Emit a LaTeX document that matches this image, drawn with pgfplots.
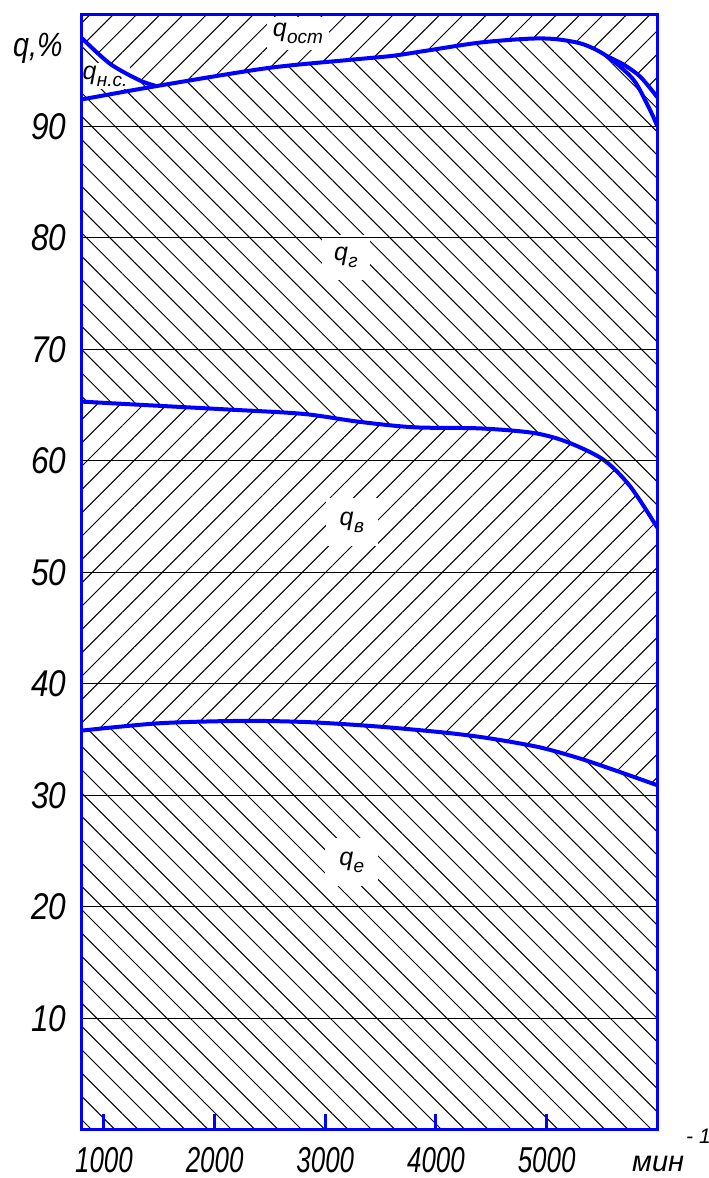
\documentclass[border=0pt]{standalone}
\usepackage{fontspec}
\setmainfont{Liberation Sans}
\newfontfamily\xtfont[FakeStretch=0.72]{Liberation Sans}
\newfontfamily\ytfont[FakeStretch=0.85]{Liberation Sans}
\usepackage{pgfplots}
\pgfplotsset{compat=1.18}
\usepgfplotslibrary{fillbetween}
\usetikzlibrary{patterns.meta}

\tikzset{
  hatchR/.style={pattern={Lines[angle=45,distance=8.25pt,line width=0.5pt]}},
  hatchL/.style={pattern={Lines[angle=-45,distance=8.25pt,line width=0.5pt]}},
  curve/.style={blue, line width=2pt, smooth},
  lab/.style={fill=white, font=\fontsize{12.5}{12.5}\selectfont\itshape},
}
\newcommand{\qs}[1]{q\kern0.2pt\raisebox{-3.5pt}{\fontsize{9.5}{9.5}\selectfont #1}}

\begin{document}
\begin{tikzpicture}
\begin{axis}[
  scale only axis, width=287.75pt, height=557.55pt,
  xmin=800, xmax=6000, ymin=0, ymax=100,
  xtick={1000,2000,3000,4000,5000},
  xticklabels={1000,2000,3000,4000,5000},
  ytick={10,20,...,90},
  yticklabels={10,20,30,40,50,60,70,80,90},
  xtick pos=left, tick align=inside, major tick length=8pt,
  xtick style={blue, line width=1.5pt},
  ytick style={draw=none},
  ymajorgrids, major grid style={black, line width=0.6pt},
  axis line style={blue, line width=1.7pt},
  axis on top,
  xticklabel style={inner sep=0pt, yshift=-8.75pt,
    font=\fontsize{18}{18}\selectfont\xtfont\itshape},
  yticklabel style={inner sep=0pt, xshift=-7.5pt,
    font=\fontsize{18.6}{18.6}\selectfont\ytfont\itshape},
]
% boundaries
\addplot[draw=none, name path=bot] coordinates {(800,0) (6000,0)};
\addplot[draw=none, name path=top] coordinates {(800,100) (6000,100)};
% q_e top
\addplot[draw=none, smooth, name path=E] coordinates {
 (800,35.8) (1505,36.46) (2260,36.67) (2864,36.55) (3494,36.15) (4097,35.6)
 (4487,35.1) (4937,34.3) (5300,33.3) (5600,32.3) (6000,30.9)};
% q_v top
\addplot[draw=none, smooth, name path=B] coordinates {
 (800,65.3) (1356,65.0) (2109,64.6) (2800,64.2) (3300,63.5) (3800,63.0)
 (4397,62.9) (4876,62.5) (5180,61.7) (5512,60.1) (5755,57.7) (6000,54.0)};
% upper boundary (q_ns top)
\addplot[draw=none, smooth, name path=U] coordinates {
 (800,97.9) (1055,95.6) (1325,94.1) (1430,93.72) (1476,93.6) (1530,93.7)
 (2470,95.2) (3222,95.95) (3600,96.3) (3900,96.75) (4397,97.5) (4848,97.85)
 (5089,97.8) (5330,97.35) (5541,96.3) (5700,95.5) (5850,94.4) (6000,92.6)};

\addplot[hatchL] fill between[of=bot and E];
\addplot[hatchR] fill between[of=E and B];
\addplot[hatchL] fill between[of=B and U];
\addplot[hatchR] fill between[of=U and top];

% labels
\node[lab, inner sep=3pt] at (axis cs:2753,98.3) {\qs{ост}};
\node[lab, inner sep=1.5pt] at (axis cs:1010,94.5) {\qs{н.с.}};
\node[lab, inner sep=6pt] at (axis cs:3186,78.2) {\qs{г}};
\node[lab, inner sep=7pt] at (axis cs:3240,54.5) {\qs{в}};
\node[lab, inner sep=7pt] at (axis cs:3240,24.0) {\qs{е}};

% curves
\addplot[curve] coordinates {
 (800,35.8) (1505,36.46) (2260,36.67) (2864,36.55) (3494,36.15) (4097,35.6)
 (4487,35.1) (4937,34.3) (5300,33.3) (5600,32.3) (6000,30.9)};
\addplot[curve] coordinates {
 (800,65.3) (1356,65.0) (2109,64.6) (2800,64.2) (3300,63.5) (3800,63.0)
 (4397,62.9) (4876,62.5) (5180,61.7) (5512,60.1) (5755,57.7) (6000,54.0)};
\addplot[curve] coordinates {
 (800,92.4) (1476,93.6) (2470,95.2) (3222,95.95) (3600,96.3) (3900,96.75)
 (4397,97.5) (4848,97.85) (5089,97.8) (5330,97.35) (5541,96.3) (5782,94.2)
 (5932,91.5) (6000,90.0)};
\addplot[curve] coordinates {(800,97.9) (1055,95.6) (1325,94.1) (1476,93.6)};
\addplot[curve] coordinates {(5541,96.3) (5700,95.5) (5850,94.4) (6000,92.6)};

\coordinate (SW) at (rel axis cs:0,0);
\coordinate (NE) at (rel axis cs:1,1);
\coordinate (SE) at (rel axis cs:1,0);
\coordinate (NW) at (rel axis cs:0,1);
\end{axis}
\node[anchor=base west, inner sep=0pt, font=\fontsize{16.8}{16.8}\selectfont\ytfont\itshape]
  at ([xshift=-34.5pt, yshift=-21pt]NW) {q,\%};
\node[anchor=base west, inner sep=0pt, font=\fontsize{14.5}{14.5}\selectfont\itshape]
  at ([xshift=-12.75pt, yshift=-21pt]SE) {мин};
\node[anchor=base west, inner sep=0pt, font=\fontsize{10.5}{10.5}\selectfont\itshape]
  at ([xshift=14.25pt, yshift=-7pt]SE) {- 1};
\pgfresetboundingbox
\path[use as bounding box] ([shift={(-40.9pt,-24.1pt)}]SW) rectangle ([shift={(25.75pt,7.35pt)}]NE);
\end{tikzpicture}
\end{document}
